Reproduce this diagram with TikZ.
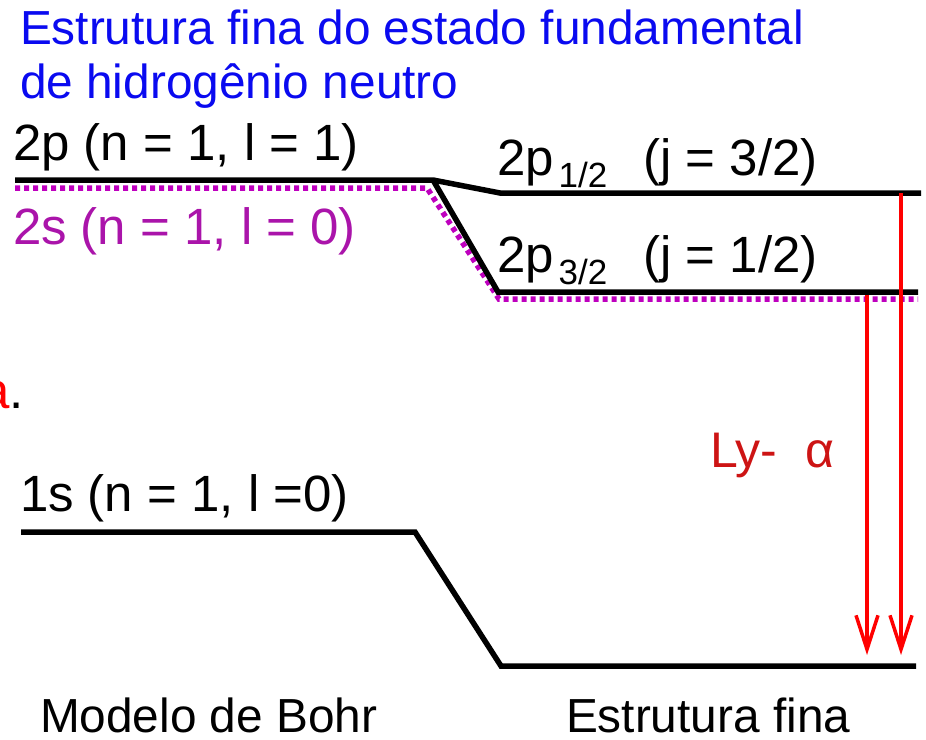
\documentclass[tikz,border=0pt]{standalone}
\usepackage{fontspec}
\setmainfont{Liberation Sans}
\usetikzlibrary{arrows.meta}
\definecolor{titleblue}{RGB}{10,10,240}
\definecolor{lvlpurple}{RGB}{170,20,170}
\definecolor{dotpurple}{RGB}{190,0,190}
\definecolor{lyred}{RGB}{205,20,20}
\tikzset{
  lbl/.style={anchor=base west, inner sep=0pt, outer sep=0pt, font=\fontsize{51}{51}\selectfont},
  big/.style={anchor=base west, inner sep=0pt, outer sep=0pt, font=\fontsize{47.8}{47.8}\selectfont},
  level/.style={line width=5.5pt, black, line join=miter},
  dotlevel/.style={line width=5.5pt, dotpurple, dash pattern=on 5pt off 4pt},
  transition/.style={line width=3.2pt, red, -{Straight Barb[length=34pt,width=22pt,line width=3.5pt]}}
}
\begin{document}
\begin{tikzpicture}[x=1pt,y=-1pt]
\useasboundingbox (0,0) rectangle (926,739);
% title
\node[big, text=titleblue] (t1) at (20,44) {Estrutura fina do estado fundamental};
\node[big, text=titleblue] (t2) at (20,98) {de hidrogênio neutro};
% partial text at left edge
\node[lbl] (cut) at (-18.8,408) {\textcolor{red}{a}.};
% level labels
\node[lbl] (l2p) at (13,160) {2p (n = 1, l = 1)};
\node[lbl, text=lvlpurple] (l2s) at (13,244) {2s (n = 1, l = 0)};
\node[lbl] (l1s) at (20,511) {1s (n = 1, l =0)};
\node[lbl] (l2p1) at (497,175) {2p\raisebox{-12pt}{\fontsize{35}{35}\selectfont\hspace{5pt}1/2}\hspace{36pt}(j = 3/2)};
\node[lbl] (l2p3) at (497,272) {2p\raisebox{-12pt}{\fontsize{35}{35}\selectfont\hspace{5pt}3/2}\hspace{36pt}(j = 1/2)};
\node[lbl, text=lyred, font=\fontsize{50}{50}\selectfont] (ly) at (710,467) {Ly-\hspace{28pt}α};
% bottom labels
\node[big] (mb) at (40,732) {Modelo de Bohr};
\node[big] (ef) at (566,732) {Estrutura fina};
% coordinates of levels
\coordinate (a0) at (15,180);
\coordinate (a1) at (433,180);
\coordinate (b0) at (500,193);
\coordinate (b1) at (921,193);
\coordinate (c0) at (498,292);
\coordinate (c1) at (918,292);
\coordinate (d0) at (15,188);
\coordinate (d1) at (427,188);
\coordinate (d2) at (499,299);
\coordinate (d3) at (918,299);
\coordinate (e0) at (21,532);
\coordinate (e1) at (415,532);
\coordinate (e2) at (501,666);
\coordinate (e3) at (916,666);
% dotted 2s levels
\draw[dotlevel] (d0) -- (d1) -- (d2) -- (d3);
% solid levels
\draw[level] (a0) -- (a1) -- (b0) -- (b1);
\draw[level] (a1) -- (c0) -- (c1);
\draw[level] (e0) -- (e1) -- (e2) -- (e3);
% transitions
\coordinate (p1) at (901,193);
\coordinate (q1) at (901,655);
\coordinate (p2) at (867,295);
\coordinate (q2) at (867,655);
\draw[transition] (p1) -- (q1);
\draw[transition] (p2) -- (q2);
\end{tikzpicture}
\end{document}
